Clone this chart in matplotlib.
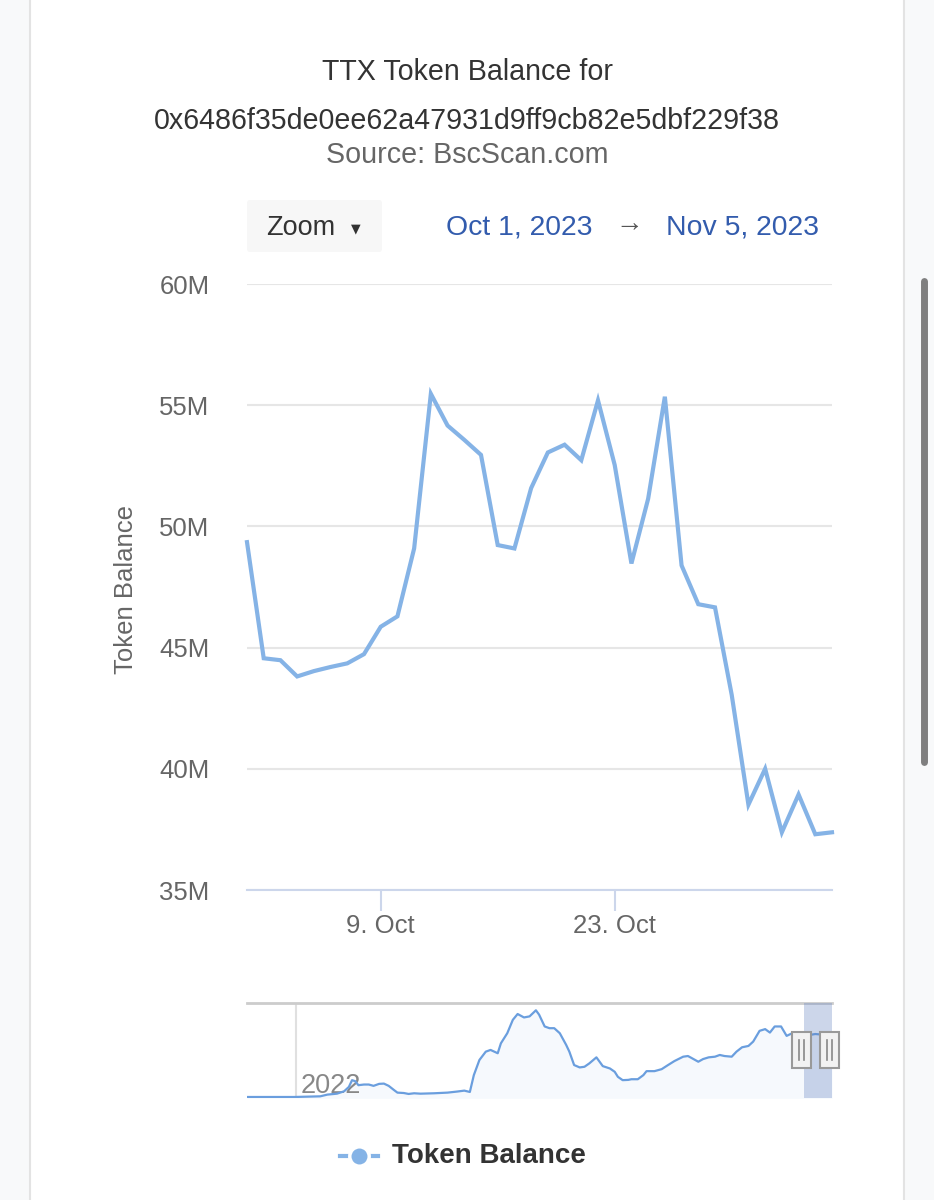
import numpy as np
import matplotlib
matplotlib.use("Agg")
import matplotlib.pyplot as plt
from matplotlib.patches import Rectangle, FancyBboxPatch
from matplotlib.lines import Line2D

# ---------------- data ----------------
title_line1 = "TTX Token Balance for"
title_line2 = "0x6486f35de0ee62a47931d9ff9cb82e5dbf229f38"
subtitle = "Source: BscScan.com"
series_name = "Token Balance"
range_from = "Oct 1, 2023"
range_to = "Nov 5, 2023"

main_start = "2023-10-01"
main_values_m = [49.35, 44.56, 44.48, 43.81, 44.03, 44.20, 44.35, 44.73, 45.86, 46.29,
                 49.09, 55.47, 54.16, 53.57, 52.95, 49.23, 49.09, 51.58, 53.05, 53.37,
                 52.73, 55.20, 52.53, 48.47, 51.14, 55.35, 48.39, 46.79, 46.66, 43.05,
                 38.52, 40.00, 37.38, 38.94, 37.30, 37.38]
y_ticks_m = [35, 40, 45, 50, 55, 60]
y_tick_labels = ["35M", "40M", "45M", "50M", "55M", "60M"]
x_tick_dates = ["2023-10-09", "2023-10-23"]
x_tick_labels = ["9. Oct", "23. Oct"]

nav_dates = ["2021-10-31", "2021-12-29", "2022-01-31", "2022-02-09", "2022-02-21", "2022-03-02",
             "2022-03-08", "2022-03-12", "2022-03-16", "2022-03-20", "2022-03-27", "2022-04-02",
             "2022-04-08", "2022-04-15", "2022-04-21", "2022-04-27", "2022-05-04", "2022-05-08",
             "2022-05-16", "2022-05-22", "2022-05-29", "2022-06-06", "2022-06-23", "2022-07-10",
             "2022-07-22", "2022-07-31", "2022-08-07", "2022-08-12", "2022-08-19", "2022-08-27",
             "2022-09-02", "2022-09-11", "2022-09-15", "2022-09-23", "2022-09-30", "2022-10-06",
             "2022-10-14", "2022-10-21", "2022-10-29", "2022-11-02", "2022-11-09", "2022-11-15",
             "2022-11-21", "2022-11-28", "2022-12-06", "2022-12-10", "2022-12-16", "2022-12-23",
             "2022-12-29", "2023-01-04", "2023-01-13", "2023-01-17", "2023-01-21", "2023-01-30",
             "2023-02-05", "2023-02-09", "2023-02-15", "2023-02-22", "2023-02-26", "2023-03-06",
             "2023-03-13", "2023-03-17", "2023-03-27", "2023-04-05", "2023-04-13", "2023-04-21",
             "2023-05-02", "2023-05-08", "2023-05-12", "2023-05-21", "2023-05-27", "2023-06-03",
             "2023-06-11", "2023-06-17", "2023-06-23", "2023-07-02", "2023-07-08", "2023-07-15",
             "2023-07-23", "2023-07-29", "2023-08-06", "2023-08-13", "2023-08-19", "2023-08-25",
             "2023-09-02", "2023-09-09", "2023-09-16", "2023-09-23", "2023-10-05", "2023-10-15",
             "2023-10-25", "2023-11-05"]
nav_values_m = [0.0, 0.0, 0.5, 1.8, 2.5, 4.3,
                7.6, 12.7, 11.9, 8.9, 9.4, 9.4,
                8.4, 9.9, 10.1, 8.4, 5.1, 3.3,
                3.0, 2.3, 2.8, 2.5, 2.8, 3.3,
                4.1, 4.8, 3.8, 16.5, 27.9, 34.2,
                35.5, 33.0, 40.5, 48.1, 58.2, 62.6,
                60.0, 60.8, 65.4, 62.1, 53.2, 51.9,
                51.9, 48.1, 39.3, 34.2, 24.1, 22.3,
                22.8, 25.3, 29.9, 26.6, 23.3, 21.5,
                19.0, 15.2, 12.7, 12.9, 13.4, 13.4,
                16.5, 19.5, 19.5, 21.0, 24.1, 27.1,
                30.4, 30.9, 29.6, 26.6, 28.6, 29.9,
                30.4, 31.7, 30.9, 30.4, 34.2, 37.5,
                38.5, 41.8, 49.9, 51.2, 48.6, 53.2,
                53.2, 46.1, 48.1, 47.0, 46.5, 47.5,
                47.0, 46.0]
nav_year_tick = "2022-01-01"
nav_year_label = "2022"

# ---------------- styling ----------------
FONT = ["Liberation Sans", "DejaVu Sans"]
plt.rcParams["font.family"] = FONT
W, H = 934, 1200
LINE = "#85b3e6"
NAVLINE = "#6a9ede"


def fx(x):
    return x / W


def fy(y):
    return 1 - y / H


fig = plt.figure(figsize=(W / 100, H / 100), dpi=100)
fig.patch.set_facecolor("white")

# page frame (card and scrollbar)
fig.add_artist(Rectangle((0, 0), fx(30), 1, transform=fig.transFigure, facecolor="#f8f9fa",
                         edgecolor="none", zorder=0))
fig.add_artist(Rectangle((fx(904), 0), 1 - fx(904), 1, transform=fig.transFigure,
                         facecolor="#f8f9fa", edgecolor="none", zorder=0))
fig.add_artist(Line2D([fx(30), fx(30)], [0, 1], transform=fig.transFigure, color="#e3e3e3", lw=1.5))
fig.add_artist(Line2D([fx(904), fx(904)], [0, 1], transform=fig.transFigure, color="#e3e3e3", lw=1.5))
fig.add_artist(Line2D([fx(923.5), fx(923.5)], [fy(281), fy(762)], transform=fig.transFigure,
                      color="#7f7f7f", lw=5, solid_capstyle="round"))

# titles
fig.text(fx(467), fy(72), title_line1, ha="center", va="center", fontsize=20.6, color="#333333")
fig.text(fx(467), fy(121), title_line2, ha="center", va="center", fontsize=20.6, color="#333333")
fig.text(fx(467), fy(155), subtitle, ha="center", va="center", fontsize=20.6, color="#666666")

# zoom button
fig.add_artist(FancyBboxPatch((fx(247), fy(252)), fx(382) - fx(247), fy(200) - fy(252),
                              boxstyle="round,pad=0,rounding_size=0.003", transform=fig.transFigure,
                              facecolor="#f7f7f7", edgecolor="none"))
fig.text(fx(266), fy(228), "Zoom", ha="left", va="center", fontsize=19.5, color="#333333")
fig.text(fx(356), fy(229), "\u25BC", ha="center", va="center", fontsize=9, color="#333333",
         family="DejaVu Sans")

# range selector
fig.text(fx(446), fy(227), range_from, ha="left", va="center", fontsize=20.4, color="#335cad")
fig.text(fx(629), fy(224), "\u2192", ha="center", va="center", fontsize=20, color="#555555")
fig.text(fx(666), fy(227), range_to, ha="left", va="center", fontsize=20.4, color="#335cad")

# ---------------- main chart ----------------
dates = np.datetime64(main_start) + np.arange(len(main_values_m))
ax = fig.add_axes([fx(247), fy(890), fx(832) - fx(247), fy(284) - fy(890)])
ax.plot(dates, main_values_m, color=LINE, lw=3.0, solid_joinstyle="miter", zorder=3, clip_on=False)
ax.set_xlim(dates[0], dates[-1])
ax.set_ylim(35, 60)
ax.set_yticks(y_ticks_m)
ax.set_yticklabels(y_tick_labels)
ax.yaxis.grid(True, color="#e6e6e6", lw=1.5)
ax.set_axisbelow(True)
for s in ["top", "right", "left"]:
    ax.spines[s].set_visible(False)
ax.spines["bottom"].set_color("#ccd6eb")
ax.spines["bottom"].set_linewidth(1.5)
ax.tick_params(axis="y", length=0, pad=27, labelsize=18.5, labelcolor="#666666")
ax.set_xticks([np.datetime64(d) for d in x_tick_dates])
ax.set_xticklabels(x_tick_labels)
ax.tick_params(axis="x", length=15, width=1.5, color="#ccd6eb", pad=2, labelsize=18.5,
               labelcolor="#666666")
fig.text(fx(126), fy(590), series_name, rotation=90, ha="center", va="center", fontsize=18.5,
         color="#666666")

# ---------------- navigator ----------------
nd = np.array(nav_dates, dtype="datetime64[D]")
nav = fig.add_axes([fx(247), fy(1098), fx(832) - fx(247), fy(1003) - fy(1098)])
nav.fill_between(nd, -1, nav_values_m, color=LINE, alpha=0.07, lw=0)
nav.plot(nd, nav_values_m, color=NAVLINE, lw=1.6, zorder=3)
nav.set_xlim(nd[0], nd[-1])
nav.set_ylim(-0.76, 70.9)
for s in ["left", "right", "bottom"]:
    nav.spines[s].set_visible(False)
nav.spines["top"].set_color("#cccccc")
nav.spines["top"].set_linewidth(2)
nav.set_yticks([])
nav.set_xticks([np.datetime64(nav_year_tick)])
nav.set_xticklabels([])
nav.tick_params(axis="x", length=0)
nav.xaxis.grid(True, color="#e0e0e0", lw=1.5)
nav.text(np.datetime64(nav_year_tick) + np.timedelta64(5, "D"), 3.0, nav_year_label, ha="left",
         va="baseline", fontsize=19.5, color="#888888", zorder=2)
# selected-range mask
mask_lo = dates[0]
mask_hi = dates[-1]
nav.axvspan(mask_lo, mask_hi, color=(102 / 255, 133 / 255, 194 / 255), alpha=0.33, lw=0, zorder=4)

# handles
for hx in [801.5, 829]:
    fig.add_artist(Rectangle((fx(hx - 9.5), fy(1068)), fx(19), fy(1032) - fy(1068),
                             transform=fig.transFigure, facecolor="#f2f2f2", edgecolor="#999999",
                             lw=1.5, zorder=10))
    for dx in (-2.5, 2.5):
        fig.add_artist(Line2D([fx(hx + dx), fx(hx + dx)], [fy(1040), fy(1060)],
                              transform=fig.transFigure, color="#888888", lw=1.2, zorder=11))

# ---------------- legend ----------------
fig.add_artist(Line2D([fx(340), fx(378)], [fy(1156), fy(1156)], transform=fig.transFigure,
                      color=LINE, lw=3))
fig.add_artist(Line2D([fx(359)], [fy(1156)], transform=fig.transFigure, marker="o", markersize=14,
                      markerfacecolor=LINE, markeredgecolor="white", markeredgewidth=2.5,
                      linestyle="none"))
fig.text(fx(392), fy(1156), series_name, ha="left", va="center", fontsize=20, fontweight="bold",
         color="#333333")

fig.savefig("out.png", dpi=100)
